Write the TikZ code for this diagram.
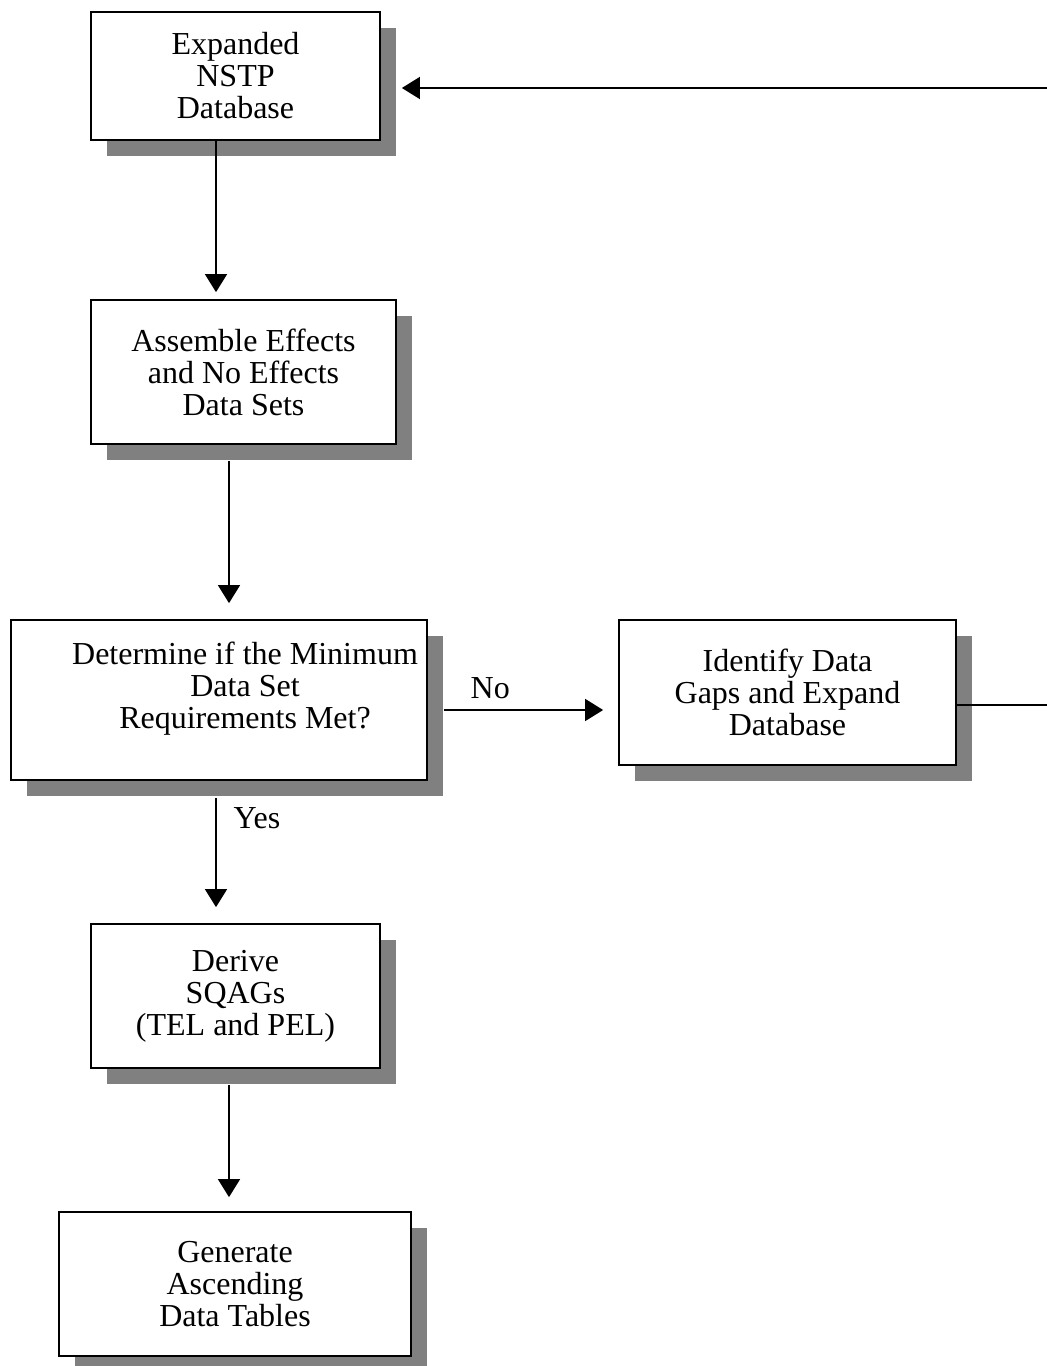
\documentclass[tikz,border=0pt]{standalone}
\usepackage{fontspec}
\setmainfont{Liberation Serif}
\usetikzlibrary{arrows.meta,shadows}
\newdimen\pxu \pxu=0.75pt

\begin{document}
\begin{tikzpicture}[x=0.75pt,y=-0.75pt,
  font=\fontsize{24}{24}\selectfont,
  stepbox/.style={draw,line width=1.3pt,fill=white,align=center,inner sep=0pt,
    drop shadow={shadow xshift=16\pxu,shadow yshift=-16\pxu,fill=black!50,opacity=1}},
  flow/.style={line width=1.1pt,-{Triangle[length=13.5pt,width=16.5pt]}},
  lab/.style={inner sep=0pt}]
\useasboundingbox (0,0) rectangle (1046,1366);
% boxes
\node[stepbox,minimum width=289\pxu,minimum height=128\pxu] (nstp) at (235.5,76) {Expanded\\NSTP\\Database};
\node[stepbox,minimum width=305\pxu,minimum height=144\pxu] (sets) at (243.5,372) {Assemble Effects\\and No Effects\\Data Sets};
\node[stepbox,minimum width=416\pxu,minimum height=160\pxu] (mds) at (219,700)
  {\begin{tabular}{@{\hspace{52\pxu}}c@{}}Determine if the Minimum\\Data Set\\Requirements Met?\\[20\pxu]\end{tabular}};
\node[stepbox,minimum width=337\pxu,minimum height=145\pxu] (gaps) at (787.5,692.5) {Identify Data\\Gaps and Expand\\Database};
\node[stepbox,minimum width=289\pxu,minimum height=144\pxu] (sqag) at (235.5,996) {Derive\\SQAGs\\(TEL and PEL)};
\node[stepbox,minimum width=352\pxu,minimum height=144\pxu] (tabs) at (235,1284) {Generate\\Ascending\\Data Tables};
% connectors
\draw[flow,shorten >=5.25pt] ([xshift=-19.5\pxu]nstp.south) -- ([xshift=-27.5\pxu]sets.north);
\draw[flow,shorten <=12pt,shorten >=12pt] ([xshift=-14.5\pxu]sets.south) -- ([xshift=10\pxu]mds.north);
\draw[flow,shorten <=12pt,shorten >=11.25pt] ([yshift=-10\pxu]mds.east) -- ([yshift=-17.5\pxu]gaps.west)
  node[lab,pos=0.328,above=10\pxu] {No};
\draw[flow,shorten <=12.75pt,shorten >=12pt] ([xshift=-3\pxu]mds.south) -- ([xshift=-19.5\pxu]sqag.north)
  node[lab,pos=0.264,right=17\pxu] {Yes};
\draw[flow,shorten <=12pt,shorten >=10.5pt] ([xshift=-6.5\pxu]sqag.south) -- ([xshift=-6\pxu]tabs.north);
% loop back, its upright part lies past the page edge
\coordinate (ra) at (1052,705);
\coordinate (rb) at (1052,88);
\draw[flow,shorten >=15.75pt] ([yshift=-12.5\pxu]gaps.east) -- (ra) -- (rb) -- ([yshift=-12\pxu]nstp.east);
\end{tikzpicture}
\end{document}
